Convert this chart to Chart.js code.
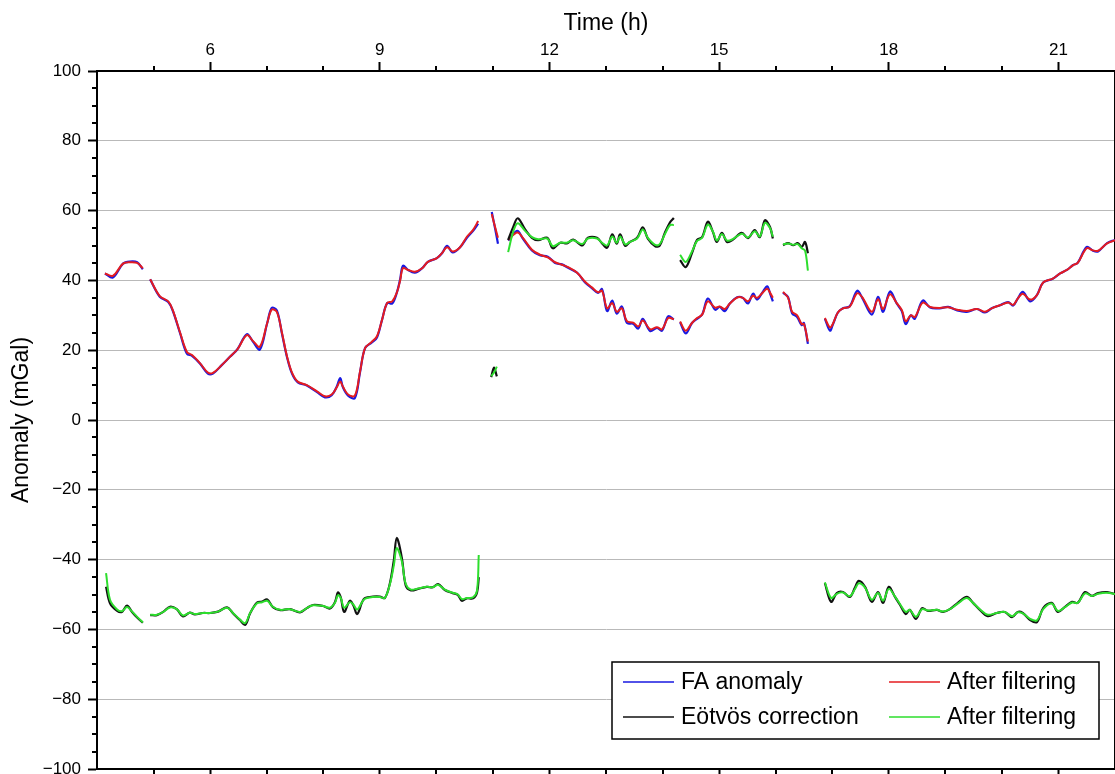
<!DOCTYPE html>
<html>
<head>
<meta charset="utf-8">
<script src="https://cdn.jsdelivr.net/npm/chart.js@4.4.1/dist/chart.umd.min.js"></script>
<style>
  html, body { margin: 0; padding: 0; overflow: hidden; background: #fff; }
  #wrap { position: absolute; left: 0; top: 0; width: 1140px; height: 800px; }
</style>
</head>
<body>
<div id="wrap"><canvas id="c"></canvas></div>
<script>
// ---------- data ----------
const seriesLabels = ['FA anomaly', 'After filtering', 'Eötvös correction', 'After filtering'];
const seriesColors = ['rgb(25,25,225)', 'rgb(228,28,32)', 'rgb(17,17,17)', 'rgb(45,222,45)'];

// time (h) of FA anomaly samples; null values mark gaps
const faTime = [
  4.14, 4.28, 4.46, 4.58, 4.71, 4.81,
  4.88,
  4.94, 5.11, 5.26, 5.34, 5.47, 5.59, 5.68, 5.82, 5.96, 6.05,
  6.21, 6.35, 6.48, 6.65, 6.76, 6.88, 7.01, 7.09, 7.18, 7.27,
  7.36, 7.45, 7.55, 7.71, 7.89, 8.03, 8.15, 8.24, 8.30, 8.35,
  8.44, 8.56, 8.65, 8.74, 8.86, 8.95, 9.04, 9.13, 9.22, 9.30,
  9.36, 9.41, 9.50, 9.62, 9.75, 9.85, 10.01, 10.10, 10.19, 10.29,
  10.42, 10.54, 10.65, 10.74,
  10.86,
  10.98, 11.04, 11.09,
  11.18,
  11.27, 11.43, 11.53, 11.69, 11.83, 11.97, 12.10, 12.22, 12.33, 12.49,
  12.63, 12.75, 12.86, 12.93, 13.02, 13.11, 13.19, 13.28, 13.37, 13.48,
  13.57, 13.65, 13.78, 13.90, 13.99, 14.10, 14.20,
  14.25,
  14.31, 14.41, 14.52, 14.61, 14.70, 14.80, 14.93, 15.01, 15.10, 15.19,
  15.32, 15.42, 15.51, 15.60, 15.67, 15.76, 15.85, 15.90, 15.95,
  16.04,
  16.13, 16.22, 16.29, 16.38, 16.46, 16.50, 16.57,
  16.72,
  16.87, 16.96, 17.01, 17.10, 17.19, 17.31, 17.44, 17.53, 17.70, 17.81,
  17.90, 18.02, 18.14, 18.23, 18.30, 18.39, 18.46, 18.60, 18.73, 18.90,
  19.05, 19.21, 19.38, 19.56, 19.70, 19.82, 19.97, 20.11, 20.20, 20.28,
  20.37, 20.50, 20.62, 20.73, 20.90, 21.03, 21.15, 21.26, 21.34, 21.50,
  21.61, 21.70, 21.86, 22.0
];
const faRaw = [
  42, 40.8, 44.8, 45.4, 45.2, 43.2,
  null,
  40.3, 35.3, 33.8, 31.3, 24.8, 19, 18.4, 16.2, 13.3, 13.3,
  15.8, 18.1, 20.2, 24.6, 22.4, 20.2, 27.8, 32.1, 31.4, 24.8,
  18, 13.2, 10.8, 9.9, 8, 6.5, 7.1, 9.6, 12, 9.3,
  7, 6.3, 13.6, 20.6, 22.2, 23.6, 28.7, 33.5, 33.4, 36.4,
  40.3, 44.2, 43, 42.2, 43.5, 45.3, 46.4, 47.8, 49.9, 48,
  49.5, 52.2, 54.2, 56.3,
  null,
  59.6, 54.8, 50.5,
  null,
  51.4, 54.2, 52, 48.6, 47.2, 46.8, 45, 44.6, 43.6, 42.2,
  39.4, 37.8, 36.4, 37.5, 31.2, 34.2, 30.5, 32.5, 27.8, 27.6,
  26.2, 29, 25.5, 26.4, 25.6, 29.7, 28.8,
  null,
  28, 24.8, 27.8, 29, 30.2, 34.8, 31.6, 32.4, 31.2, 33.4,
  35.2, 35, 33.4, 36.2, 34.5, 36.4, 38.3, 36.3, 34,
  null,
  36.5, 35.2, 30.6, 29.5, 27.2, 27.8, 21.8,
  null,
  29, 25.6, 27.3, 30.8, 32, 32.6, 37, 35, 30.2, 35.3,
  31, 36.8, 33.4, 31.2, 27.5, 30, 29, 34.2, 32.2, 32,
  32.4, 31.4, 31, 31.8, 30.8, 32, 32.9, 33.8, 32.8, 34.8,
  36.7, 34, 35.8, 39.4, 40.5, 42, 43, 44.4, 45, 49.6,
  48.5, 48.3, 50.7, 51.6
];
const faFiltered = [
  42, 41.3, 44.8, 45.2, 45, 43.5,
  null,
  40.3, 35.5, 34, 31.5, 25, 19.5, 18.6, 16.3, 13.6, 13.5,
  15.8, 18.1, 20.2, 24.3, 22.6, 21, 27.8, 31.6, 31, 25,
  18.2, 13.5, 11, 10, 8.2, 6.8, 7.3, 9.4, 11, 9.5,
  7.3, 7, 13.8, 20.6, 22.4, 24, 28.7, 33.5, 34, 36.4,
  40, 43.5, 43, 42.5, 43.5, 45.3, 46.4, 47.8, 49.5, 48.3,
  49.5, 52.5, 54.5, 57,
  null,
  59, 55.2, 52.2,
  null,
  51.6, 53.7, 52.2, 48.8, 47.4, 46.6, 45.2, 44.5, 43.8, 42.2,
  39.6, 38, 36.6, 37, 32, 33.5, 31, 32, 28.3, 27.9,
  26.8, 28.5, 26, 26.6, 26, 29.2, 28.9,
  null,
  28.2, 25.6, 27.8, 29.2, 30.2, 34, 32.2, 32.5, 31.8, 33.4,
  35.1, 35, 34, 35.6, 35, 36.3, 37.6, 36.5, 35,
  null,
  36.7, 35, 31, 30, 27.5, 27.5, 22.5,
  null,
  29.2, 26.5, 27.5, 30.8, 32, 32.5, 36.3, 35.2, 31, 34.6,
  31.8, 36, 33.5, 31.5, 28.3, 30, 29.5, 33.6, 32.4, 32.1,
  32.3, 31.6, 31.2, 31.8, 31, 32, 32.9, 33.7, 33, 34.8,
  36.2, 34.5, 35.8, 39.4, 40.5, 42, 43, 44.4, 45, 49.2,
  48.6, 48.5, 50.6, 51.5
];

// time (h) of Eötvös correction samples; null values mark gaps
const eoTime = [
  4.16, 4.23, 4.35, 4.44, 4.53, 4.62, 4.71, 4.81,
  4.88,
  4.94, 5.06, 5.17, 5.29, 5.41, 5.52, 5.64, 5.73, 5.87, 6.0,
  6.14, 6.30, 6.40, 6.53, 6.62, 6.71, 6.83, 6.92, 7.01, 7.11,
  7.24, 7.41, 7.59, 7.71, 7.82, 8.0, 8.12, 8.21, 8.26, 8.31,
  8.37, 8.47, 8.53, 8.60, 8.69, 8.74, 8.88, 9.0, 9.09, 9.18,
  9.25, 9.30, 9.39, 9.46, 9.55, 9.68, 9.83, 9.94, 10.03, 10.15,
  10.29, 10.38, 10.45, 10.54, 10.65, 10.72, 10.75,
  10.86,
  10.97, 11.02, 11.07,
  11.18,
  11.27, 11.36, 11.44, 11.57, 11.69, 11.80, 11.96, 12.06, 12.19, 12.31,
  12.42, 12.58, 12.68, 12.84, 12.93, 13.02, 13.11, 13.19, 13.25, 13.34,
  13.42, 13.55, 13.65, 13.74, 13.87, 13.95, 14.04, 14.13, 14.20,
  14.25,
  14.31, 14.41, 14.52, 14.61, 14.70, 14.80, 14.89, 14.96, 15.05, 15.14,
  15.24, 15.40, 15.51, 15.63, 15.72, 15.81, 15.90, 15.95,
  16.04,
  16.13, 16.22, 16.31, 16.39, 16.46, 16.52, 16.57,
  16.72,
  16.87, 16.98, 17.08, 17.19, 17.31, 17.40, 17.47, 17.58, 17.70, 17.81,
  17.90, 18.00, 18.11, 18.20, 18.30, 18.37, 18.48, 18.59, 18.69, 18.85,
  18.96, 19.08, 19.22, 19.38, 19.49, 19.61, 19.75, 19.91, 20.05, 20.18,
  20.28, 20.37, 20.50, 20.62, 20.73, 20.88, 20.99, 21.11, 21.24, 21.34,
  21.47, 21.59, 21.70, 21.86, 22.0
];
const eoRaw = [
  -47.8, -52.5, -54.6, -55, -53.2, -55, -56.6, -58.1,
  null,
  -55.9, -55.9, -55, -53.5, -54.2, -56.3, -55.2, -55.7, -55.3, -55.3,
  -54.9, -53.7, -55.3, -57.4, -58.7, -55.3, -52.3, -52, -51.4, -53.6,
  -54.5, -54.2, -55.1, -53.9, -53, -53.3, -54, -52.1, -49.4, -50.8,
  -55, -51.8, -53, -55.6, -52.1, -51, -50.6, -50.6, -51, -46.7,
  -40, -33.8, -39.5, -47.5, -48.8, -48.4, -47.8, -47.9, -47, -48.7,
  -49.6, -50.1, -51.8, -51.1, -51.1, -49.4, -45,
  null,
  12.3, 15, 12.5,
  null,
  51.6, 55.3, 57.8, 54.6, 52.2, 51.5, 52.2, 49.2, 50.8, 50.6,
  51.7, 50, 52.2, 52.2, 50.6, 49.4, 53.2, 50.5, 53.2, 49.9,
  51, 52.2, 55.2, 52, 49.8, 50, 53.6, 56.6, 57.9,
  null,
  45.8, 43.8, 47.8, 51.6, 52.4, 56.8, 53.9, 51, 53.6, 51,
  51.6, 53.6, 52.1, 54.4, 52.4, 57.2, 55.3, 52,
  null,
  50.1, 50.7, 50.1, 50.7, 49.6, 51, 47.8,
  null,
  -46.7, -52.1, -49.6, -49.3, -50.7, -48.1, -46.1, -47.8, -52.1, -49.3,
  -52.4, -47.8, -50.7, -53, -55.6, -54.4, -57, -53.9, -54.7, -54.4,
  -55, -54.2, -52.4, -50.7, -52.4, -54.4, -56.2, -55.3, -55, -56.5,
  -55, -55.3, -57.3, -57.9, -53.9, -52.4, -55, -53.6, -52.1, -52.4,
  -49.3, -50.4, -49.6, -49.3, -49.9
];
const eoFiltered = [
  -43.9, -51.5, -54.2, -54.8, -53.6, -54.9, -56.4, -58,
  null,
  -55.8, -55.8, -55, -53.7, -54.2, -56, -55.2, -55.6, -55.3, -55.3,
  -54.9, -53.8, -55.2, -57.2, -58.2, -55.2, -52.5, -52.2, -51.8, -53.5,
  -54.4, -54.2, -55, -53.9, -53.1, -53.3, -53.8, -52.3, -50.2, -51,
  -53.8, -52.2, -52.8, -54.3, -52.1, -51.2, -50.7, -50.7, -51, -47,
  -41.5, -36.7, -40.5, -47, -48.6, -48.3, -47.8, -47.9, -47.2, -48.6,
  -49.5, -50, -51.3, -51, -50.8, -48.8, -38.7,
  null,
  12.6, 13.6, 15.3,
  null,
  48.1, 54, 56.4, 54.2, 52.4, 51.8, 52, 49.8, 50.8, 50.8,
  51.5, 50.4, 52, 52, 50.8, 50, 52.6, 50.8, 52.6, 50.3,
  51, 52, 54.6, 52.2, 50.2, 50.4, 53.2, 55.8, 55.9,
  null,
  47.3, 45.3, 48.3, 51.3, 52.2, 56, 54, 51.4, 53.3, 51.4,
  51.8, 53.4, 52.3, 54.1, 52.6, 56.5, 55, 52.5,
  null,
  50.3, 50.6, 50.2, 50.4, 49.2, 48.5, 42.8,
  null,
  -46.5, -51, -49.8, -49.4, -50.5, -48.5, -46.8, -48, -51.5, -49.6,
  -51.8, -48.4, -50.6, -52.8, -55, -54.4, -56.4, -54.2, -54.6, -54.4,
  -54.9, -54.2, -52.6, -51, -52.4, -54.2, -55.8, -55.3, -55, -56.2,
  -55.1, -55.4, -57, -57.4, -54.2, -52.6, -54.7, -53.7, -52.3, -52.4,
  -49.7, -50.4, -49.8, -49.5, -49.9
];

// axis settings
const xMin = 4, xMax = 22, xMinorStep = 1;
const xTickValues = [6, 9, 12, 15, 18, 21];
const yMin = -100, yMax = 100, yMajorStep = 20, yMinorStep = 5;

// ---------- chart ----------
const FONT = "'Liberation Sans', Helvetica, Arial, sans-serif";
const toPts = (t, v) => t.map((x, i) => ({ x: x, y: v[i] }));
const minus = v => (v < 0 ? '\u2212' + Math.abs(v) : String(v));
const setXTicks = s => { s.ticks = xTickValues.map(v => ({ value: v })); };

function mk(label, color, pts, order, width) {
  return {
    label: label, data: pts, borderColor: color, backgroundColor: color,
    borderWidth: width, pointRadius: 0, tension: 0.35, spanGaps: false,
    fill: false, order: order
  };
}

const minorTicks = {
  id: 'minorTicks',
  afterDraw(chart) {
    const { ctx, chartArea: a, scales } = chart;
    ctx.save();
    ctx.strokeStyle = '#000';
    ctx.lineWidth = 2;
    const len = 5;
    ctx.beginPath();
    for (let h = xMin + xMinorStep; h < xMax; h += xMinorStep) {
      if (xTickValues.includes(h)) continue;
      const px = Math.round(scales.x.getPixelForValue(h));
      ctx.moveTo(px, a.top); ctx.lineTo(px, a.top - len);
      ctx.moveTo(px, a.bottom); ctx.lineTo(px, a.bottom + len);
    }
    for (let v = yMin + yMinorStep; v < yMax; v += yMinorStep) {
      if (v % yMajorStep === 0) continue;
      const py = Math.round(scales.y.getPixelForValue(v));
      ctx.moveTo(a.left, py); ctx.lineTo(a.left - len, py);
      ctx.moveTo(a.right, py); ctx.lineTo(a.right + len, py);
    }
    ctx.stroke();
    ctx.restore();
  }
};

const boxLegend = {
  id: 'boxLegend',
  afterDraw(chart) {
    const { ctx, chartArea: a } = chart;
    const L = a.left + 515, T = a.top + 591, W = 487, H = 77;
    ctx.save();
    ctx.fillStyle = '#fff';
    ctx.fillRect(L, T, W, H);
    ctx.strokeStyle = '#000';
    ctx.lineWidth = 1.5;
    ctx.strokeRect(L, T, W, H);
    ctx.font = '23px ' + FONT;
    ctx.textBaseline = 'middle';
    ctx.textAlign = 'left';
    const cols = [11, 277], rows = [20, 55];
    [0, 1, 2, 3].forEach((di, k) => {
      const ds = chart.data.datasets[di];
      const cx = L + cols[k % 2], cy = T + rows[Math.floor(k / 2)];
      ctx.strokeStyle = ds.borderColor;
      ctx.lineWidth = 1.5;
      ctx.beginPath(); ctx.moveTo(cx, cy); ctx.lineTo(cx + 51, cy); ctx.stroke();
      ctx.fillStyle = '#000';
      ctx.fillText(ds.label, cx + 58, cy + 1);
    });
    ctx.restore();
  }
};

const tickFont = { family: FONT, size: 17 };
const titleFont = { family: FONT, size: 23 };

new Chart(document.getElementById('c'), {
  type: 'line',
  data: {
    datasets: [
      mk(seriesLabels[0], seriesColors[0], toPts(faTime, faRaw), 3, 2.2),
      mk(seriesLabels[1], seriesColors[1], toPts(faTime, faFiltered), 2, 2),
      mk(seriesLabels[2], seriesColors[2], toPts(eoTime, eoRaw), 1, 2.2),
      mk(seriesLabels[3], seriesColors[3], toPts(eoTime, eoFiltered), 0, 2)
    ]
  },
  options: {
    responsive: true,
    maintainAspectRatio: false,
    animation: false,
    devicePixelRatio: 1,
    layout: { padding: 0 },
    plugins: { legend: { display: false }, tooltip: { enabled: false } },
    scales: {
      x: {
        type: 'linear', position: 'top', min: xMin, max: xMax,
        afterBuildTicks: setXTicks,
        afterFit: s => { s.height = 71; },
        ticks: { color: '#000', font: tickFont, padding: 1, maxRotation: 0, autoSkip: false },
        grid: { drawOnChartArea: false, tickLength: 9, tickWidth: 2, tickColor: '#000' },
        border: { color: '#000', width: 2 },
        title: { display: true, text: 'Time (h)', color: '#000', font: titleFont, padding: { top: 10, bottom: 0 } }
      },
      x2: {
        type: 'linear', position: 'bottom', min: xMin, max: xMax,
        afterBuildTicks: setXTicks,
        afterFit: s => { s.height = 31; },
        ticks: { display: false, autoSkip: false },
        grid: { drawOnChartArea: false, tickLength: 9, tickWidth: 2, tickColor: '#000' },
        border: { color: '#000', width: 2 }
      },
      y: {
        type: 'linear', position: 'left', min: yMin, max: yMax,
        afterFit: s => { s.width = 97; },
        ticks: { stepSize: yMajorStep, color: '#000', font: tickFont, padding: 7, callback: v => minus(v) },
        grid: {
          drawOnChartArea: true, tickLength: 9, tickWidth: 2, tickColor: '#000',
          color: ctx => (ctx.tick && (ctx.tick.value === yMin || ctx.tick.value === yMax)) ? 'rgba(0,0,0,0)' : '#b9b9b9',
          lineWidth: 1
        },
        border: { color: '#000', width: 2 },
        title: { display: true, text: 'Anomaly (mGal)', color: '#000', font: titleFont, padding: { top: 8, bottom: 0 } }
      },
      y2: {
        type: 'linear', position: 'right', min: yMin, max: yMax,
        afterFit: s => { s.width = 25; },
        ticks: { stepSize: yMajorStep, display: false },
        grid: { drawOnChartArea: false, tickLength: 9, tickWidth: 2, tickColor: '#000' },
        border: { color: '#000', width: 2 }
      }
    }
  },
  plugins: [minorTicks, boxLegend]
});
</script>
</body>
</html>
